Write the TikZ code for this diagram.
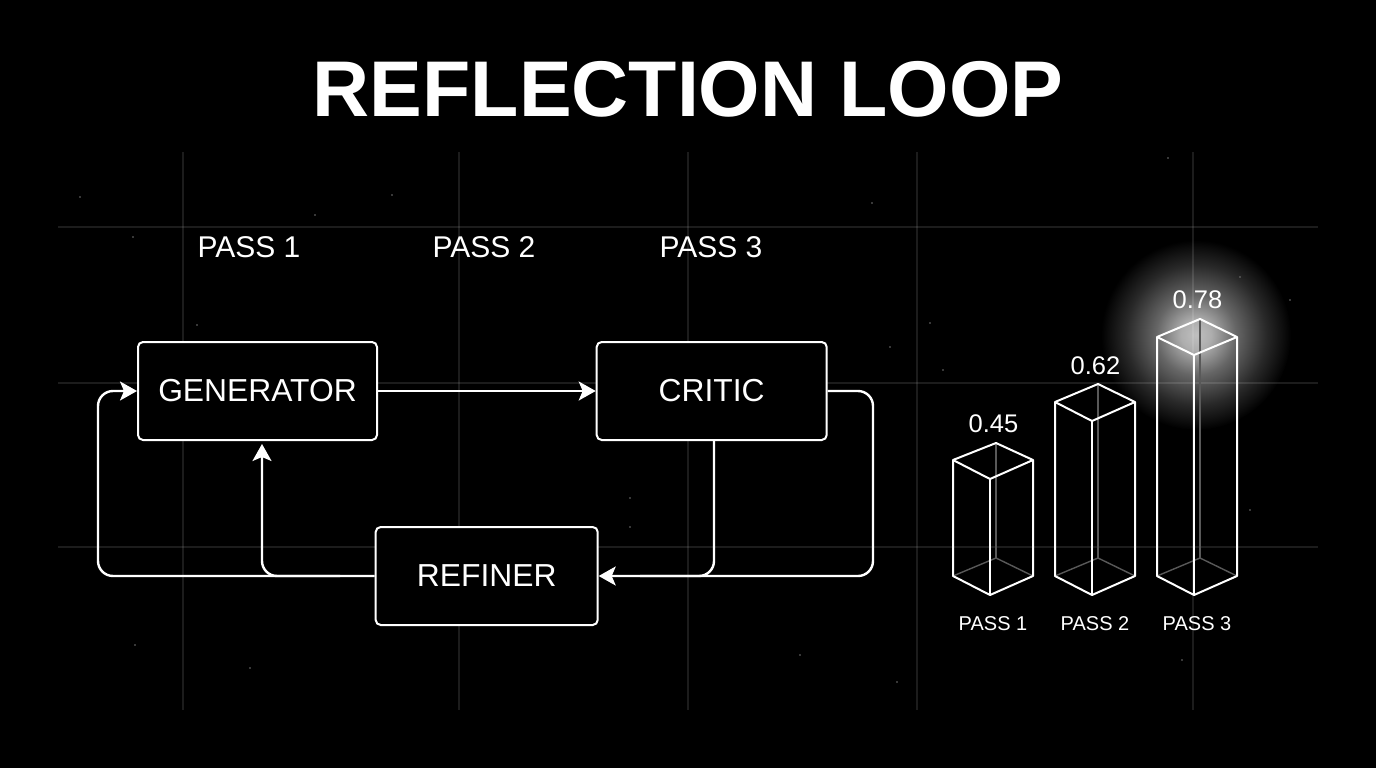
\documentclass[tikz,border=0pt]{standalone}
\usepackage{fontspec}
\setmainfont{Liberation Sans}
\usetikzlibrary{arrows.meta}

\pgfdeclareradialshading{glowshade}{\pgfpoint{0bp}{0bp}}{%
  color(0bp)=(black!25!white); color(4bp)=(black!32!white); color(10.5bp)=(black!60!white);
  color(18.4bp)=(black!84!white); color(23bp)=(black!95!white); color(25bp)=(black); color(50bp)=(black)}

\tikzset{
  gridline/.style={draw=white,opacity=.11,line width=1.5pt},
  speck/.style={fill=white!45!black},
  blockbox/.style={draw=white,line width=2pt,rounded corners=5pt,fill=black,text=white,
    inner sep=0pt,font=\fontsize{31.8}{31.8}\selectfont},
  flow/.style={draw=white,line width=2.4pt,rounded corners=15pt},
  flowtip/.style={flow,-{Stealth[length=17pt,width=19pt,inset=4pt]}},
  passtop/.style={text=white,font=\fontsize{30}{30}\selectfont},
  passlow/.style={text=white,inner sep=0pt,font=\fontsize{20}{20}\selectfont},
  valuelab/.style={text=white,inner sep=0pt,font=\fontsize{25.5}{25.5}\selectfont},
  edgefront/.style={draw=white,line width=2pt,line join=round},
  edgeback/.style={draw=white!35!black,line width=1.4pt},
}

\begin{document}
\begin{tikzpicture}[x=1pt,y=-1pt]
\fill[black] (0,0) rectangle (1376,768);

\shade[shading=glowshade] (1196,335) circle (95);

\foreach \x in {183,459,688,917,1193}
  \draw[gridline] (\x,152) -- (\x,710);
\foreach \y in {227,383,547}
  \draw[gridline] (58,\y) -- (1318,\y);

\foreach \x/\y in {80/197,133/237,315/215,392/195,197/325,872/203,1168/158,1240/277,930/323,890/347,943/370,135/645,250/668,800/655,897/682,1182/660,630/498,630/527,1250/510,1290/300}
  \fill[speck] (\x,\y) circle (.8);

\node[text=white,font=\fontsize{79}{79}\selectfont\bfseries] (title) at (688,89) {REFLECTION LOOP};

\node[passtop] (toplab1) at (249,247) {PASS 1};
\node[passtop] (toplab2) at (484,247) {PASS 2};
\node[passtop] (toplab3) at (711,247) {PASS 3};

\node[blockbox,minimum width=239pt,minimum height=98pt] (gen) at (257.5,391) {GENERATOR};
\node[blockbox,minimum width=230pt,minimum height=98pt] (critic) at (711.7,391) {CRITIC};
\node[blockbox,minimum width=222pt,minimum height=98pt] (refiner) at (486.7,576) {REFINER};

\coordinate (rightturn) at (873,391);
\coordinate (rightlow) at (873,576);
\coordinate (leftlow) at (98,576);
\coordinate (leftup) at (98,391);
\coordinate (midlow) at (262,576);
\coordinate (gentip) at (262,444);
\coordinate (criticdrop) at (714,440);
\coordinate (criticlow) at (714,576);
\coordinate (criticjoin) at (640,576);
\coordinate (midjoin) at (340,576);

\draw[flowtip] (gen.east) -- (critic.west);
\draw[flowtip] (critic.east) -- (rightturn) -- (rightlow) -- (refiner.east);
\draw[flow] (criticdrop) -- (criticlow) -- (criticjoin);
\draw[flowtip] (refiner.west) -- (leftlow) -- (leftup) -- (gen.west);
\draw[flowtip] (midjoin) -- (midlow) -- (gentip);

% bars: left, right, front, back, top y's
\foreach \n/\l/\r/\f/\b/\ta/\ts/\tf/\vy/\val/\lab in {1/953/1033/990/996/443/460/479/424/0.45/PASS 1,2/1055/1135/1092/1098/384/402/421/366/0.62/PASS 2,3/1157/1237/1194/1200/319/337/355/300/0.78/PASS 3}{
  \draw[edgeback] (\b,\ta) -- (\b,558);
  \draw[edgeback] (\l,576) -- (\b,558) -- (\r,576);
  \draw[edgefront] (\l,\ts) -- (\b,\ta) -- (\r,\ts) -- (\r,576) -- (\f,595) -- (\l,576) -- cycle;
  \draw[edgefront] (\l,\ts) -- (\f,\tf) -- (\r,\ts);
  \draw[edgefront] (\f,\tf) -- (\f,595);
  \node[valuelab] (val\n) at ({(\l+\r)/2+.5},\vy) {\val};
  \node[passlow] (lowlab\n) at ({(\l+\r)/2},623.5) {\lab};
}
\end{tikzpicture}
\end{document}
